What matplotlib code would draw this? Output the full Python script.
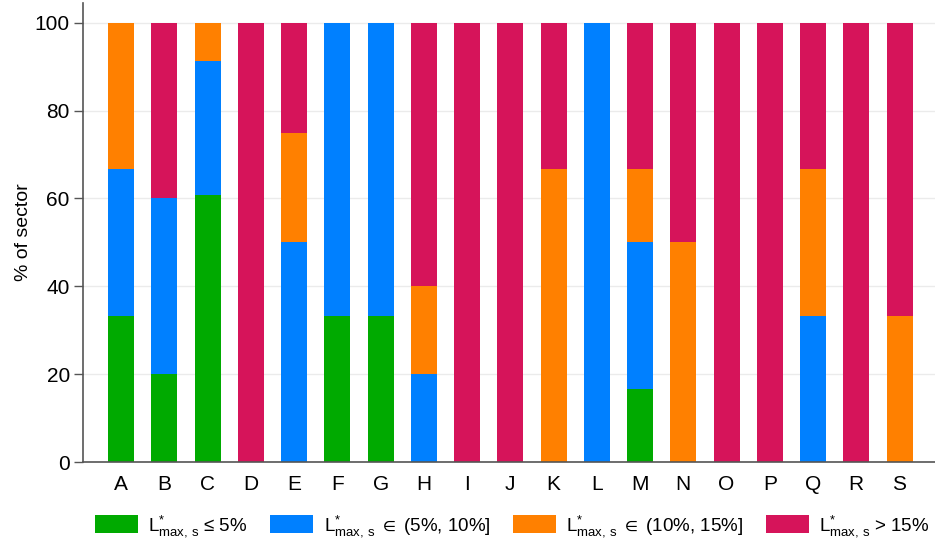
import matplotlib
matplotlib.use("Agg")
import matplotlib.pyplot as plt
from matplotlib import font_manager
import numpy as np

# share of firms per sector in each leverage band (%)
sectors = list("ABCDEFGHIJKLMNOPQRS")
share_le5 = [33.3, 20, 60.9, 0, 0, 33.3, 33.3, 0, 0, 0, 0, 0, 16.7, 0, 0, 0, 0, 0, 0]
share_5_10 = [33.3, 40, 30.4, 0, 50, 66.7, 66.7, 20, 0, 0, 0, 100, 33.3, 0, 0, 0, 33.3, 0, 0]
share_10_15 = [33.4, 0, 8.7, 0, 25, 0, 0, 20, 0, 0, 66.7, 0, 16.7, 50, 0, 0, 33.3, 0, 33.3]
share_gt15 = [0, 40, 0, 100, 25, 0, 0, 60, 100, 100, 33.3, 0, 33.3, 50, 100, 100, 33.4, 100, 66.7]

labels = [r"L$^{*}_{\mathrm{max,\,s}}$ ≤ 5%",
          r"L$^{*}_{\mathrm{max,\,s}}$ ${\in}$ (5%, 10%]",
          r"L$^{*}_{\mathrm{max,\,s}}$ ${\in}$ (10%, 15%]",
          r"L$^{*}_{\mathrm{max,\,s}}$ > 15%"]
colors = ["#00AA00", "#0080FF", "#FF8000", "#D6145A"]

installed = {f.name for f in font_manager.fontManager.ttflist}
base_font = "Liberation Sans" if "Liberation Sans" in installed else "DejaVu Sans"

plt.rcParams["font.family"] = [base_font, "DejaVu Sans"]
plt.rcParams["mathtext.fontset"] = "custom"
plt.rcParams["mathtext.rm"] = base_font
plt.rcParams["mathtext.it"] = base_font
plt.rcParams["mathtext.fallback"] = "stixsans"

fig = plt.figure(figsize=(9.35, 5.4), dpi=100)
ax = fig.add_axes([0.0888, 0.1444, 0.9112, 0.85])

x = np.arange(len(sectors))
bottom = np.zeros(len(sectors))
for vals, col, lab in zip([share_le5, share_5_10, share_10_15, share_gt15], colors, labels):
    vals = np.array(vals, dtype=float)
    ax.bar(x, vals, width=0.6, bottom=bottom, color=col, label=lab, zorder=2)
    bottom += vals

ax.set_xlim(-0.88, 18.82)
ax.set_ylim(0, 104.5)
ax.set_yticks([0, 20, 40, 60, 80, 100])
ax.set_xticks(x)
ax.set_xticklabels(sectors)
ax.yaxis.grid(True, color="#EBEBEB", linewidth=1, zorder=0)
ax.set_axisbelow(True)

for side in ["top", "right"]:
    ax.spines[side].set_visible(False)
for side in ["left", "bottom"]:
    ax.spines[side].set_color("#555555")
    ax.spines[side].set_linewidth(1.2)

ax.tick_params(axis="y", length=6.5, width=1, color="#555555", labelsize=15, pad=3)
ax.tick_params(axis="x", length=0, labelsize=15, pad=9)
ax.set_ylabel("% of sector", fontsize=14, labelpad=2)

leg = fig.legend(loc="lower center", bbox_to_anchor=(0.548, -0.03), ncol=4, frameon=False,
                 prop={"size": 13.5}, handlelength=2.3, handleheight=1.1,
                 columnspacing=1.2, handletextpad=0.55)

fig.savefig("out.png", dpi=100)
